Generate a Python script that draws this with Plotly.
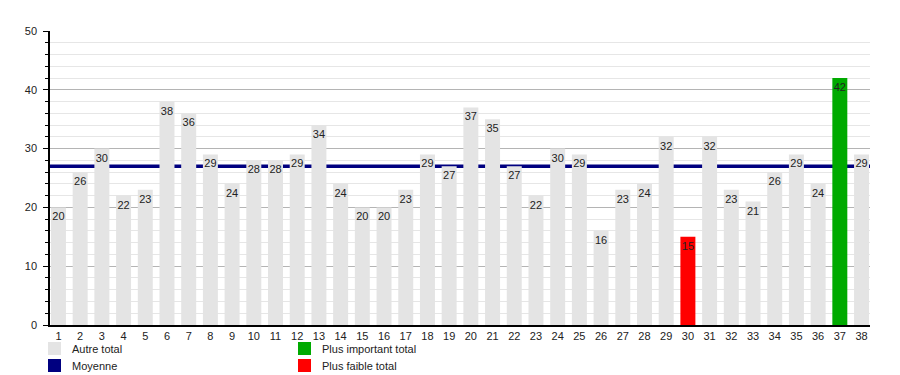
import plotly.graph_objects as go

categories = [str(i) for i in range(1, 39)]
values = [20, 26, 30, 22, 23, 38, 36, 29, 24, 28, 28, 29, 34, 24, 20, 20, 23, 29, 27, 37,
          35, 27, 22, 30, 29, 16, 23, 24, 32, 15, 32, 23, 21, 26, 29, 24, 42, 29]
legend_labels = ["Autre total", "Moyenne", "Plus important total", "Plus faible total"]

GREY = "#e4e4e4"
GREEN = "#00aa00"
RED = "#ff0000"
NAVY = "#000080"

vmax = max(values)
vmin = min(values)
mean = sum(values) / len(values)
colors = [GREEN if v == vmax else RED if v == vmin else GREY for v in values]

XR = [-0.39, len(categories) - 1 + 0.39]
YR = [0, 50]

font = dict(family="Liberation Sans, Arial, sans-serif", size=11, color="#222")

fig = go.Figure()
fig.add_trace(go.Bar(
    x=categories, y=values,
    marker=dict(color=colors, line=dict(width=0)),
    width=0.69, text=[str(v) for v in values], textposition="inside",
    insidetextanchor="end", textangle=0, constraintext="none",
    textfont=font, showlegend=False, hoverinfo="x+y",
))

# mean line, drawn beneath the bars
fig.add_shape(type="line", xref="paper", yref="y", x0=0, x1=1, y0=mean, y1=mean,
              line=dict(color=NAVY, width=3.5), layer="below")

leg = [(legend_labels[0], GREY, 0, 0), (legend_labels[1], NAVY, 0, 1),
       (legend_labels[2], GREEN, 1, 0), (legend_labels[3], RED, 1, 1)]
W, H = 820, 294
for label, col, cx, row in leg:
    x0px = -2 + cx * 250
    y0px = -17 - row * 17
    fig.add_shape(type="rect", xref="paper", yref="paper",
                  x0=x0px / W, x1=(x0px + 13) / W,
                  y0=(y0px - 13) / H, y1=y0px / H,
                  fillcolor=col, line=dict(width=0))
    fig.add_annotation(xref="paper", yref="paper", x=(x0px + 22) / W, y=(y0px - 7) / H,
                       text=label, showarrow=False, xanchor="left", yanchor="middle",
                       font=font)

fig.update_layout(
    width=900, height=375,
    margin=dict(l=50, r=30, t=31, b=50),
    paper_bgcolor="white", plot_bgcolor="rgba(0,0,0,0)",
    font=font, bargap=0.3,
    xaxis=dict(type="category", range=XR, showgrid=False,
               showline=True, linecolor="black", linewidth=1.5, ticks="",
               tickfont=font, fixedrange=True),
    yaxis=dict(range=YR, dtick=10, showgrid=True, gridcolor="#b4b4b4", gridwidth=1,
               showline=True, linecolor="black", linewidth=1.5,
               ticks="outside", ticklen=5, tickcolor="black", tickfont=font,
               ticklabelstandoff=4, zeroline=False, fixedrange=True,
               minor=dict(dtick=2, showgrid=True, gridcolor="#e6e6e6", gridwidth=1,
                          ticks="outside", ticklen=3, tickcolor="black")),
)

fig.write_html("out.html", config={"displayModeBar": False},
               post_script="document.body.style.margin='0';document.body.style.overflow='hidden';")
